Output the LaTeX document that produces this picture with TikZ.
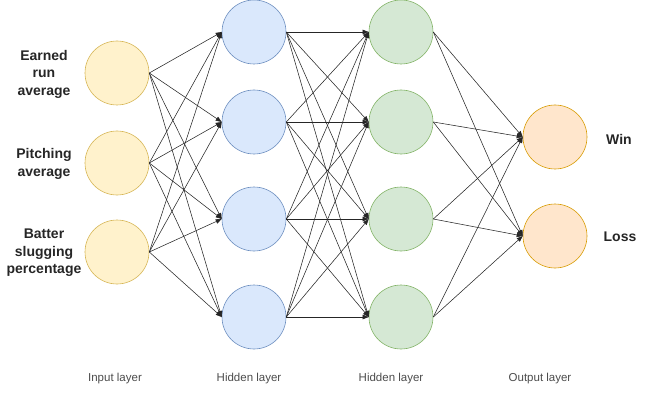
\documentclass[tikz,border=0pt]{standalone}
\usepackage{fontspec}
\setmainfont{Liberation Sans}
\usetikzlibrary{arrows.meta}
\definecolor{inF}{HTML}{FFF2CC}\definecolor{inD}{HTML}{D6B656}
\definecolor{h1F}{HTML}{DAE8FC}\definecolor{h1D}{HTML}{6C8EBF}
\definecolor{h2F}{HTML}{D5E8D4}\definecolor{h2D}{HTML}{82B366}
\definecolor{ouF}{HTML}{FFE6CC}\definecolor{ouD}{HTML}{D79B00}
\begin{document}
\begin{tikzpicture}[x=1pt,y=-1pt,
  neuron/.style={circle,minimum size=64pt,inner sep=0pt,line width=0.6pt},
  inn/.style={neuron,fill=inF,draw=inD},
  hid/.style={neuron,fill=h1F,draw=h1D},
  hidb/.style={neuron,fill=h2F,draw=h2D},
  outn/.style={neuron,fill=ouF,draw=ouD},
  conn/.style={-{Triangle[length=6pt,width=4.5pt]},line width=0.55pt,draw=black!85},
  sidelbl/.style={font=\bfseries\fontsize{14}{17.5}\selectfont,align=center,text=black!85},
  laylbl/.style={font=\fontsize{11.5}{13}\selectfont,text=black!70}]
\useasboundingbox (0,0) rectangle (645,409);
\node[inn] (i1) at (117,73) {};
\node[inn] (i2) at (117,163) {};
\node[inn] (i3) at (117,252) {};
\foreach \y [count=\k] in {32,122,219,317}{
  \node[hid] (a\k) at (254,\y) {};
  \node[hidb] (b\k) at (401,\y) {};
}
\node[outn] (o1) at (555,137) {};
\node[outn] (o2) at (555,236) {};
\node[sidelbl] (l1) at (44,74) {Earned\\run\\average};
\node[sidelbl] (l2) at (44,164) {Pitching\\average};
\node[sidelbl] (l3) at (44,253) {Batter\\slugging\\percentage};
\node[sidelbl] (w) at (619,139) {Win};
\node[sidelbl] (ls) at (620,237) {Loss};
\node[laylbl] (t1) at (115,379) {Input layer};
\node[laylbl] (t2) at (249,379) {Hidden layer};
\node[laylbl] (t3) at (391,379) {Hidden layer};
\node[laylbl] (t4) at (540,379) {Output layer};
\foreach \s in {1,2,3}{\foreach \t in {1,2,3,4}{\draw[conn] (i\s.east) -- (a\t.west);}}
\foreach \s in {1,2,3,4}{\foreach \t in {1,2,3,4}{\draw[conn] (a\s.east) -- (b\t.west);}}
\foreach \s in {1,2,3,4}{\foreach \t in {1,2}{\draw[conn] (b\s.east) -- (o\t.west);}}
\end{tikzpicture}
\end{document}
